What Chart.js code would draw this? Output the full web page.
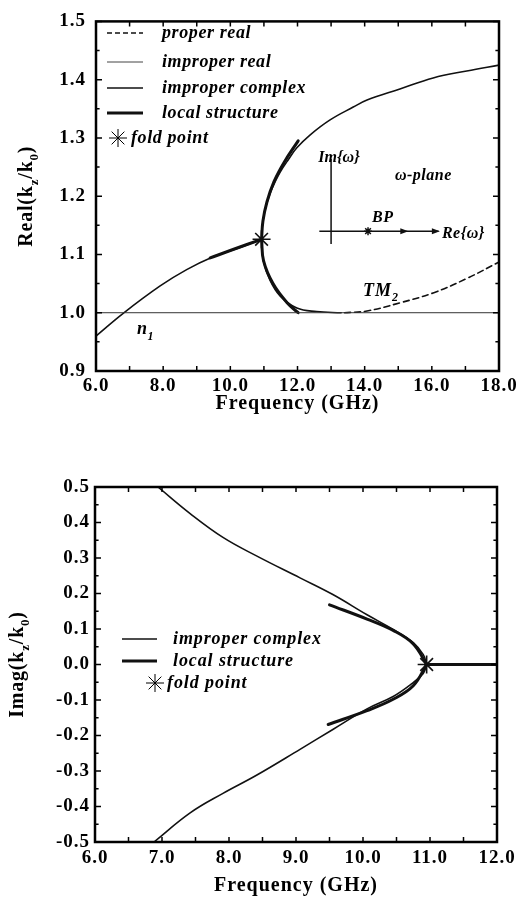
<!DOCTYPE html>
<html><head><meta charset="utf-8">
<script src="https://cdn.jsdelivr.net/npm/chart.js@4.4.0/dist/chart.umd.min.js"></script>
<style>
html,body{margin:0;padding:0;background:#fff;overflow:hidden;}
#w1{position:absolute;left:0;top:0;width:521px;height:430px;}
#w2{position:absolute;left:0;top:445px;width:521px;height:456px;}
</style></head><body>
<div id="w1"><canvas id="c1"></canvas></div>
<div id="w2"><canvas id="c2"></canvas></div>
<script>
const SERIF = '"Liberation Serif", "Times New Roman", serif';

// ---------------- Top chart: Real(kz/k0) ----------------
const topXTicks = [6, 8, 10, 12, 14, 16, 18];
const topXTickLabels = ['6.0', '8.0', '10.0', '12.0', '14.0', '16.0', '18.0'];
const topYTicks = [0.9, 1.0, 1.1, 1.2, 1.3, 1.4, 1.5];
const topYTickLabels = ['0.9', '1.0', '1.1', '1.2', '1.3', '1.4', '1.5'];

// n1 light line (improper real)
const n1Freq = [6.0, 18.0];
const n1Val = [1.0, 1.0];
// improper complex, branch below the fold
const leftFreq = [6.0, 6.81, 7.91, 8.70, 9.49, 10.09, 10.93];
const leftVal = [0.96, 0.999, 1.046, 1.074, 1.096, 1.108, 1.126];
// improper complex, upper branch after the fold
const upperFreq = [10.93, 10.97, 11.07, 11.2, 11.33, 11.48, 11.73, 11.98, 12.37, 12.97, 13.66, 14.07, 15.05, 16.04, 17.04, 18.0];
const upperVal = [1.126, 1.157, 1.185, 1.207, 1.224, 1.241, 1.263, 1.283, 1.305, 1.331, 1.353, 1.365, 1.384, 1.403, 1.415, 1.425];
// improper complex, lower branch after the fold
const lowerFreq = [10.93, 10.98, 11.18, 11.48, 11.98, 12.57, 13.3];
const lowerVal = [1.126, 1.09, 1.056, 1.029, 1.008, 1.002, 1.0];
// proper real TM2
const tm2Freq = [13.4, 14.07, 15.05, 16.04, 17.05, 18.0];
const tm2Val = [1.0, 1.003, 1.017, 1.034, 1.059, 1.087];
// local structure near the fold
const locLeftFreq = [9.4, 10.1, 10.93];
const locLeftVal = [1.094, 1.109, 1.126];
const locUpFreq = [10.93, 10.97, 11.09, 11.3, 11.6, 12.02];
const locUpVal = [1.126, 1.157, 1.19, 1.225, 1.258, 1.295];
const locLowFreq = [10.93, 10.99, 11.27, 11.69, 12.02];
const locLowVal = [1.126, 1.089, 1.05, 1.017, 1.0];
// fold point
const foldTopFreq = [10.93];
const foldTopVal = [1.126];

// ---------------- Bottom chart: Imag(kz/k0) ----------------
const botXTicks = [6, 7, 8, 9, 10, 11, 12];
const botXTickLabels = ['6.0', '7.0', '8.0', '9.0', '10.0', '11.0', '12.0'];
const botYTicks = [-0.5, -0.4, -0.3, -0.2, -0.1, 0.0, 0.1, 0.2, 0.3, 0.4, 0.5];
const botYTickLabels = ['-0.5', '-0.4', '-0.3', '-0.2', '-0.1', '0.0', '0.1', '0.2', '0.3', '0.4', '0.5'];

const imUpFreq = [6.94, 7.42, 7.91, 8.41, 9.06, 9.55, 10.06, 10.45, 10.75, 10.9, 10.95];
const imUpVal = [0.5, 0.425, 0.358, 0.306, 0.244, 0.197, 0.14, 0.099, 0.062, 0.028, 0.0];
const imLowFreq = [6.88, 7.42, 7.91, 8.41, 9.06, 9.55, 10.06, 10.45, 10.7, 10.9, 10.95];
const imLowVal = [-0.5, -0.418, -0.363, -0.312, -0.239, -0.183, -0.125, -0.09, -0.058, -0.025, 0.0];
const imLocUpFreq = [9.5, 10.06, 10.45, 10.75, 10.95];
const imLocUpVal = [0.168, 0.128, 0.096, 0.058, 0.0];
const imLocLowFreq = [9.48, 10.06, 10.45, 10.75, 10.95];
const imLocLowVal = [-0.169, -0.13, -0.098, -0.06, 0.0];
const imZeroFreq = [10.95, 12.0];
const imZeroVal = [0.0, 0.0];
const foldBotFreq = [10.95];
const foldBotVal = [0.0];

// ---------------- helpers ----------------
function pts(xs, ys) { return xs.map((x, i) => ({x: x, y: ys[i]})); }
function curve(xs, ys, w, extra) {
  return Object.assign({
    data: pts(xs, ys), showLine: true, borderColor: '#111', backgroundColor: '#111',
    borderWidth: w, pointRadius: 0, pointHoverRadius: 0, fill: false,
    tension: 0.4, borderCapStyle: 'round', borderJoinStyle: 'round'
  }, extra || {});
}
function star(xs, ys) {
  return {data: pts(xs, ys), showLine: false, pointStyle: 'star', pointRadius: 9,
    pointBorderWidth: 1.6, borderColor: '#111', backgroundColor: '#111'};
}
function richText(ctx, parts, x, y, o) {
  ctx.save();
  ctx.translate(x, y);
  if (o.rotate) ctx.rotate(o.rotate);
  ctx.letterSpacing = (o.spacing || 0) + 'px';
  ctx.fillStyle = '#000';
  ctx.textBaseline = 'alphabetic';
  ctx.textAlign = 'left';
  const style = (o.italic ? 'italic ' : '') + 'bold ';
  const fonts = parts.map(p => style + (p[1] ? o.subSize : o.size) + 'px ' + SERIF);
  let total = 0; const widths = [];
  parts.forEach((p, i) => { ctx.font = fonts[i]; const w = ctx.measureText(p[0]).width; widths.push(w); total += w; });
  let cx = o.align === 'center' ? -total / 2 : 0;
  parts.forEach((p, i) => { ctx.font = fonts[i]; ctx.fillText(p[0], cx, p[1] ? o.size * 0.3 : 0); cx += widths[i]; });
  ctx.restore();
}
function drawFrame(chart, xs, ys) {
  const ctx = chart.ctx, a = chart.chartArea;
  const sx = chart.scales.x, sy = chart.scales.y;
  ctx.save();
  ctx.strokeStyle = '#000';
  ctx.lineWidth = 1.5;
  ctx.beginPath();
  for (let k = 0; ; k++) {
    const v = xs.min + k * xs.step;
    if (v > xs.max + 1e-9) break;
    const p = sx.getPixelForValue(v);
    const L = xs.len;
    ctx.moveTo(p, a.bottom); ctx.lineTo(p, a.bottom - L);
    ctx.moveTo(p, a.top); ctx.lineTo(p, a.top + L);
  }
  for (let k = 0; ; k++) {
    const v = ys.min + k * ys.step;
    if (v > ys.max + 1e-9) break;
    const p = sy.getPixelForValue(v);
    const L = (k % 2 === 0) ? ys.len : ys.len * 0.6;
    ctx.moveTo(a.left, p); ctx.lineTo(a.left + L, p);
    ctx.moveTo(a.right, p); ctx.lineTo(a.right - L, p);
  }
  ctx.stroke();
  ctx.lineWidth = 2.5;
  ctx.strokeRect(a.left, a.top, a.right - a.left, a.bottom - a.top);
  ctx.restore();
}
function legendLine(ctx, x1, x2, y, w, dash, color) {
  ctx.save();
  ctx.strokeStyle = color || '#111';
  ctx.lineWidth = w;
  ctx.setLineDash(dash || []);
  ctx.beginPath(); ctx.moveTo(x1, y); ctx.lineTo(x2, y); ctx.stroke();
  ctx.restore();
}
function legendText(ctx, t, x, y, spacing) {
  ctx.save();
  ctx.letterSpacing = spacing + 'px';
  ctx.font = 'italic bold 18px ' + SERIF;
  ctx.fillStyle = '#000';
  ctx.textBaseline = 'middle';
  ctx.textAlign = 'left';
  ctx.fillText(t, x, y);
  ctx.restore();
}
function legendStar(ctx, x, y) {
  Chart.helpers.drawPoint(ctx, {pointStyle: 'star', radius: 9, borderWidth: 1.6}, x, y);
}
const spacingPlugin = {
  id: 'spacing',
  beforeDraw(chart) { chart.ctx.letterSpacing = '1px'; },
  afterDraw(chart) { chart.ctx.letterSpacing = '0px'; }
};

function scaleOpts(ticks, labels, min, max, pad, fitProp, fitVal, title) {
  const o = {
    type: 'linear', min: min, max: max,
    grid: {display: false, drawTicks: false},
    border: {display: false},
    afterBuildTicks: s => { s.ticks = ticks.map(v => ({value: v})); },
    afterFit: s => { s[fitProp] = fitVal; },
    ticks: {
      color: '#000', padding: pad, autoSkip: false, maxRotation: 0,
      font: {family: SERIF, size: 19, weight: 'bold'},
      callback: (v, i) => labels[i]
    }
  };
  if (title) o.title = title;
  return o;
}

// ---------------- Top chart ----------------
const topPlugin = {
  id: 'topDecor',
  afterDatasetsDraw(chart) {
    const ctx = chart.ctx, sx = chart.scales.x, sy = chart.scales.y;
    drawFrame(chart, {min: 6, max: 18, step: 1, len: 5}, {min: 0.9, max: 1.5, step: 0.05, len: 6});
    ctx.save();
    ctx.letterSpacing = '0px';
    // legend
    legendLine(ctx, 107, 143, 33, 1.5, [5, 3]);
    legendText(ctx, 'proper real', 162, 33, 0.6);
    legendLine(ctx, 107, 143, 62, 1, [], '#444');
    legendText(ctx, 'improper real', 162, 62, 0.6);
    legendLine(ctx, 107, 143, 88, 1.6);
    legendText(ctx, 'improper complex', 162, 88, 0.6);
    legendLine(ctx, 107, 143, 113, 3);
    legendText(ctx, 'local structure', 162, 113, 0.6);
    legendStar(ctx, 118, 138);
    legendText(ctx, 'fold point', 131, 138, 0.6);
    // curve labels
    richText(ctx, [['n', false], ['1', true]], sx.getPixelForValue(7.22), sy.getPixelForValue(0.963), {size: 18, subSize: 12, italic: true, spacing: 0.5});
    richText(ctx, [['TM', false], ['2', true]], sx.getPixelForValue(13.95), sy.getPixelForValue(1.029), {size: 18, subSize: 12, italic: true, spacing: 1});
    // omega-plane inset
    ctx.strokeStyle = '#111'; ctx.fillStyle = '#111'; ctx.lineWidth = 1.5;
    const vx = sx.getPixelForValue(13.0), hy = sy.getPixelForValue(1.14);
    ctx.beginPath();
    ctx.moveTo(vx, sy.getPixelForValue(1.264)); ctx.lineTo(vx, sy.getPixelForValue(1.118));
    ctx.moveTo(sx.getPixelForValue(12.65), hy); ctx.lineTo(sx.getPixelForValue(16.2), hy);
    ctx.stroke();
    [15.3, 16.24].forEach(v => {
      const px = sx.getPixelForValue(v);
      ctx.beginPath(); ctx.moveTo(px, hy); ctx.lineTo(px - 8, hy - 3); ctx.lineTo(px - 8, hy + 3); ctx.closePath(); ctx.fill();
    });
    Chart.helpers.drawPoint(ctx, {pointStyle: 'star', radius: 4, borderWidth: 1.3}, sx.getPixelForValue(14.1), hy);
    richText(ctx, [['Im{ω}', false]], sx.getPixelForValue(12.62), sy.getPixelForValue(1.258), {size: 16, italic: true, spacing: 0});
    richText(ctx, [['ω-plane', false]], sx.getPixelForValue(14.9), sy.getPixelForValue(1.228), {size: 16, italic: true, spacing: 0.5});
    richText(ctx, [['BP', false]], sx.getPixelForValue(14.22), sy.getPixelForValue(1.155), {size: 16, italic: true, spacing: 0.5});
    richText(ctx, [['Re{ω}', false]], sx.getPixelForValue(16.3), sy.getPixelForValue(1.128), {size: 16, italic: true, spacing: 0.5});
    // y axis title
    richText(ctx, [['Real(k', false], ['z', true], ['/k', false], ['0', true], [')', false]], 32, (chart.chartArea.top + chart.chartArea.bottom) / 2, {size: 20, subSize: 13, rotate: -Math.PI / 2, align: 'center', spacing: 0.8});
    ctx.restore();
  }
};

new Chart(document.getElementById('c1'), {
  type: 'scatter',
  data: {datasets: [
    curve(n1Freq, n1Val, 1, {borderColor: '#333', tension: 0}),
    curve(leftFreq, leftVal, 1.6),
    curve(upperFreq, upperVal, 1.6),
    curve(lowerFreq, lowerVal, 1.6),
    curve(tm2Freq, tm2Val, 1.6, {borderDash: [6, 4]}),
    curve(locLeftFreq, locLeftVal, 3),
    curve(locUpFreq, locUpVal, 3),
    curve(locLowFreq, locLowVal, 3),
    star(foldTopFreq, foldTopVal)
  ]},
  options: {
    responsive: true, maintainAspectRatio: false, animation: false, events: [],
    layout: {padding: {top: 15, right: 22, left: 0, bottom: 0}},
    plugins: {legend: {display: false}, tooltip: {enabled: false}},
    scales: {
      x: scaleOpts(topXTicks, topXTickLabels, 6, 18, 4, 'height', 59,
        {display: true, text: 'Frequency (GHz)', color: '#000', font: {family: SERIF, size: 20, weight: 'bold', lineHeight: 1.2}, padding: {top: 0, bottom: 14}}),
      y: scaleOpts(topYTicks, topYTickLabels, 0.9, 1.5, 10, 'width', 96)
    }
  },
  plugins: [spacingPlugin, topPlugin]
});

// ---------------- Bottom chart ----------------
const botPlugin = {
  id: 'botDecor',
  afterDatasetsDraw(chart) {
    const ctx = chart.ctx;
    drawFrame(chart, {min: 6, max: 12, step: 0.5, len: 5}, {min: -0.5, max: 0.5, step: 0.05, len: 6});
    ctx.save();
    ctx.letterSpacing = '0px';
    legendLine(ctx, 122, 157, 194, 1.6);
    legendText(ctx, 'improper complex', 173, 194, 0.9);
    legendLine(ctx, 122, 157, 216, 3);
    legendText(ctx, 'local structure', 173, 216, 0.9);
    legendStar(ctx, 155, 238);
    legendText(ctx, 'fold point', 167, 238, 0.9);
    richText(ctx, [['Imag(k', false], ['z', true], ['/k', false], ['0', true], [')', false]], 23, (chart.chartArea.top + chart.chartArea.bottom) / 2, {size: 20, subSize: 13, rotate: -Math.PI / 2, align: 'center', spacing: 0.8});
    ctx.restore();
  }
};

new Chart(document.getElementById('c2'), {
  type: 'scatter',
  data: {datasets: [
    curve(imUpFreq, imUpVal, 1.6),
    curve(imLowFreq, imLowVal, 1.6),
    curve(imLocUpFreq, imLocUpVal, 3),
    curve(imLocLowFreq, imLocLowVal, 3),
    curve(imZeroFreq, imZeroVal, 3, {tension: 0}),
    star(foldBotFreq, foldBotVal)
  ]},
  options: {
    responsive: true, maintainAspectRatio: false, animation: false, events: [],
    layout: {padding: {top: 42, right: 24, left: 0, bottom: 0}},
    plugins: {legend: {display: false}, tooltip: {enabled: false}},
    scales: {
      x: scaleOpts(botXTicks, botXTickLabels, 6, 12, 5, 'height', 59,
        {display: true, text: 'Frequency (GHz)', color: '#000', font: {family: SERIF, size: 20, weight: 'bold', lineHeight: 1.0}, padding: {top: 0, bottom: 5}}),
      y: scaleOpts(botYTicks, botYTickLabels, -0.5, 0.5, 5, 'width', 95)
    }
  },
  plugins: [spacingPlugin, botPlugin]
});
</script>
</body></html>
